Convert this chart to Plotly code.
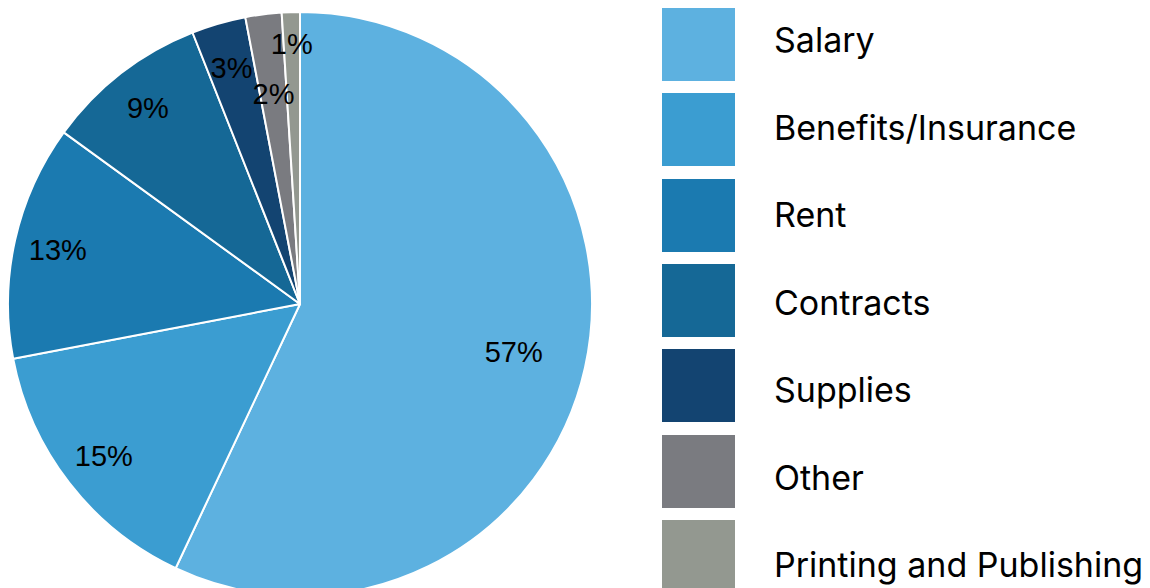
import plotly.graph_objects as go

# categories and shares (percent)
labels = ["Salary", "Benefits/Insurance", "Rent", "Contracts", "Supplies", "Other", "Printing and Publishing"]
shares = [57, 15, 13, 9, 3, 2, 1]
colors = ["#5DB1E0", "#3B9DD1", "#1B7AB0", "#156896", "#134471", "#7A7B80", "#939890"]

# the page puts the figure 8px in from the top-left corner, so work in figure pixels
W, H = 1150, 596
CX, CY, R = 292, 296, 292   # pie centre and radius (figure px)


def pie_domain(scale=1.0):
    r = R * scale
    return dict(x=[(CX - r) / W, (CX + r) / W], y=[1 - (CY + r) / H, 1 - (CY - r) / H])


fig = go.Figure()

# the pie itself (no text)
fig.add_trace(go.Pie(
    labels=labels,
    values=shares,
    sort=False,
    direction="clockwise",
    rotation=0,
    marker=dict(colors=colors, line=dict(color="white", width=2)),
    textinfo="none",
    domain=pie_domain(),
    showlegend=False,
    hoverinfo="label+percent",
))


# percentage labels: transparent rings over the pie, the ring width decides
# how far out the label sits inside its slice
def add_labels(show, hole, scale=1.0):
    fig.add_trace(go.Pie(
        labels=labels,
        values=shares,
        sort=False,
        direction="clockwise",
        rotation=0,
        hole=hole,
        marker=dict(colors=["rgba(0,0,0,0)"] * len(labels), line=dict(width=0)),
        texttemplate=["%{value}%" if lab in show else "" for lab in labels],
        textposition="inside",
        insidetextorientation="horizontal",
        textfont=dict(family="Liberation Sans", size=29, color="black"),
        domain=pie_domain(scale),
        showlegend=False,
        hoverinfo="skip",
    ))


add_labels(["Salary"], 0.5)
add_labels(["Benefits/Insurance", "Rent", "Contracts"], 0.7)
add_labels(["Supplies", "Printing and Publishing"], 0.0, 0.92)
add_labels(["Other"], 0.0, 0.77)

# legend drawn as big square swatches (horizontal bars) plus text
px_x = 73.0    # pixels per x unit (swatch width)
px_y = 85.3    # pixels per swatch row
px_t = 87.5    # pixels per text row
x0 = 567       # left edge of the legend axis
sw_left = 654

fig.add_trace(go.Bar(
    y=labels,
    x=[1] * len(labels),
    orientation="h",
    width=73 / px_y,
    marker=dict(color=colors, line=dict(width=0)),
    showlegend=False,
    hoverinfo="skip",
))
fig.add_trace(go.Scatter(
    y=labels,
    x=[(766 - sw_left) / px_x] * len(labels),
    mode="text",
    text=labels,
    textposition="middle right",
    textfont=dict(family="Inter", size=34, color="black"),
    showlegend=False,
    hoverinfo="skip",
    cliponaxis=False,
    yaxis="y2",
))

xr0 = -(sw_left - x0) / px_x
y_top = -36.5 / px_y
t_top = -35.5 / px_t

fig.update_layout(
    width=W,
    height=H,
    margin=dict(l=0, r=0, t=0, b=0),
    paper_bgcolor="white",
    plot_bgcolor="rgba(0,0,0,0)",
    uniformtext=dict(minsize=29, mode="show"),
    xaxis=dict(domain=[x0 / W, 1], range=[xr0, xr0 + (W - x0) / px_x],
               visible=False, fixedrange=True),
    yaxis=dict(domain=[0, 1], type="category", range=[y_top + H / px_y, y_top],
               visible=False, fixedrange=True),
    yaxis2=dict(domain=[0, 1], type="category", overlaying="y", range=[t_top + H / px_t, t_top],
                visible=False, fixedrange=True),
    bargap=0,
)

fig.write_html("out.html")
